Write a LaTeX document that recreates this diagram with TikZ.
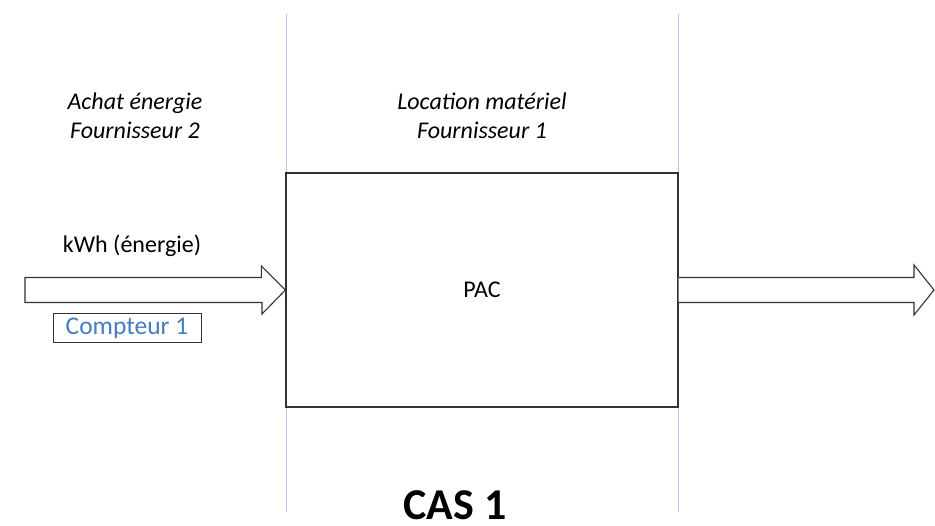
\documentclass[tikz,border=0pt]{standalone}
\usepackage{fontspec}
\setmainfont{Carlito}
\definecolor{sepline}{RGB}{180,200,230}
\definecolor{boxline}{RGB}{50,50,50}
\definecolor{meterblue}{RGB}{70,125,190}
\begin{document}
\begin{tikzpicture}[x=1pt,y=-1pt,
  lbl/.style={inner sep=0pt,font=\fontsize{24}{29.5}\selectfont},
  itl/.style={lbl,align=center,font=\fontsize{24}{29.5}\selectfont\itshape},
  mainbox/.style={draw=boxline,line width=1.2pt,minimum width=392pt,minimum height=234pt,inner sep=0pt},
  flow/.style={draw=boxline,line width=1.1pt,fill=white,line join=miter},
  sep/.style={draw=sepline,line width=1pt}
]
\useasboundingbox[fill=white] (0,0) rectangle (935,526);
% separators
\coordinate (s1t) at (286,14);
\coordinate (s1b) at (286,512);
\coordinate (s2t) at (678,14);
\coordinate (s2b) at (678,512);
\draw[sep] (s1t) -- (s1b);
\draw[sep] (s2t) -- (s2b);
% main box
\node[mainbox] (pac) at (482,290) {};
\node[lbl,anchor=base] (pactxt) at (482,298) {PAC};
% headings
\node[itl] (h1) at (135,116) {Achat énergie\\Fournisseur 2};
\node[itl] (h2) at (482,116) {Location matériel\\Fournisseur 1};
% input arrow
\draw[flow] (pac.west) -- ++(-24,-24) -- ++(0,11.5) -- (25,277.5) -- (25,302.5) -- (262,302.5) -- (262,314) -- cycle;
\node[lbl,anchor=base] (kwh) at (132,253) {kWh (énergie)};
\node[draw=boxline,line width=1pt,minimum width=148pt,minimum height=29pt,inner sep=0pt,text=meterblue,font=\fontsize{25.5}{29}\selectfont] (cpt) at (127,328.5) {Compteur 1};
% output arrow
\coordinate (outtip) at (934,290);
\draw[flow] (pac.east |- 0,277.5) -- (914,277.5) -- (914,265) -- (outtip) -- (914,315) -- (914,302.5) -- (pac.east |- 0,302.5);
% title
\node[inner sep=0pt,anchor=base,font=\fontsize{44}{50}\selectfont\bfseries] (title) at (455,519) {CAS 1};
\end{tikzpicture}
\end{document}
